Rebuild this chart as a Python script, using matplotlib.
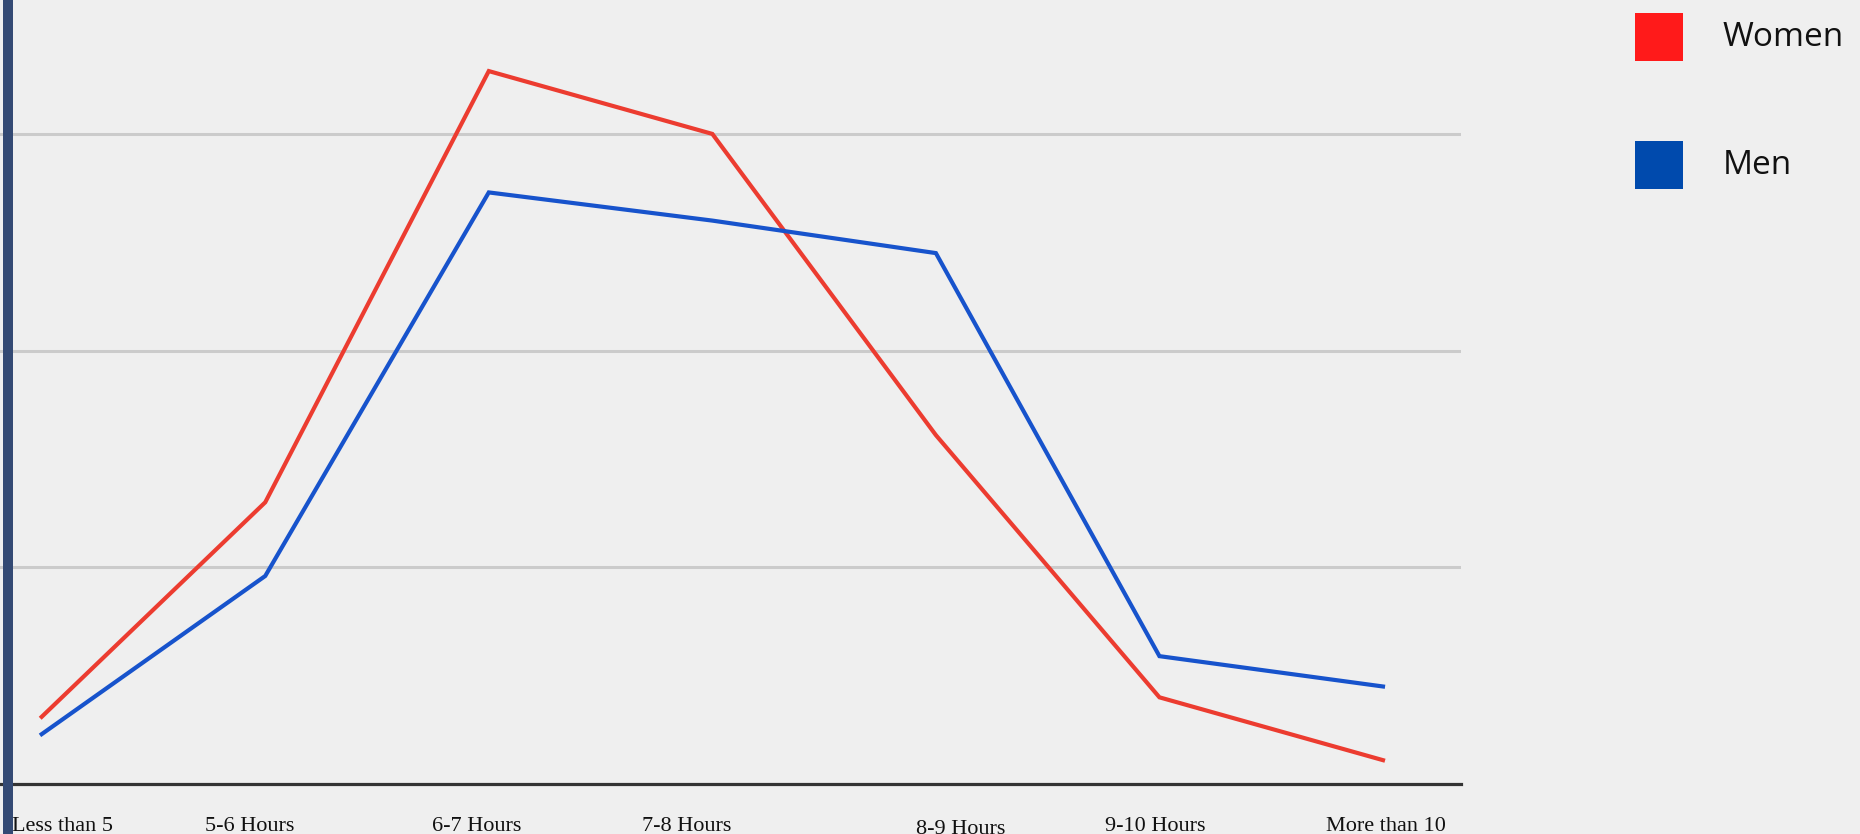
import matplotlib.pyplot as plt
from matplotlib.patches import Rectangle

categories = ["Less than 5", "5-6 Hours", "6-7 Hours", "7-8 Hours",
              "8-9 Hours", "9-10 Hours", "More than 10"]
women = [3.1, 13.0, 32.9, 30.0, 16.1, 4.0, 1.1]
men = [2.3, 9.6, 27.3, 26.0, 24.5, 5.9, 4.5]

BG = "#efefef"
W, H = 1860, 834

fig = plt.figure(figsize=(W / 100, H / 100), dpi=100, facecolor=BG)
ax = fig.add_axes([0, 50 / H, 1461 / W, 784 / H])
ax.set_facecolor(BG)

x = list(range(len(categories)))
ax.plot(x, women, color="#ec3c30", lw=3.0, solid_joinstyle="miter", zorder=3)
ax.plot(x, men, color="#1753cc", lw=3.0, solid_joinstyle="miter", zorder=3)

ax.set_xlim(-0.1865, 6.349)
ax.set_ylim(0, 36.18)

# horizontal grid plus dark baseline
for v in (10, 20, 30):
    ax.axhline(v, color="#cbcbcb", lw=2.2, zorder=1)
ax.axhline(0, color="#333333", lw=2.3, zorder=4, clip_on=False)

for s in ax.spines.values():
    s.set_visible(False)
ax.set_xticks([])
ax.set_yticks([])

# category labels sit a little off their points
label_shift = [0.091, -0.068, -0.054, -0.115, 0.110, -0.020, 0.013]
label_drop = [0, 0, 0, 0, 2.5, 0, 0]
trans = ax.get_xaxis_transform()
for i, name in enumerate(categories):
    ax.text(i + label_shift[i], -(47 + label_drop[i]) / 784, name,
            transform=trans, ha="center", va="baseline",
            family="Liberation Serif", fontsize=16, color="#111111",
            clip_on=False)

# dark bar on the left edge
fig.add_artist(Rectangle((3 / W, 0), 10 / W, 1, transform=fig.transFigure,
                         facecolor="#344a74", edgecolor="none", zorder=5))

# legend
legend = [("Women", "#ff1a1a", 13), ("Men", "#004aad", 141)]
for name, col, top in legend:
    fig.add_artist(Rectangle((1635 / W, 1 - (top + 48) / H), 48 / W, 48 / H,
                             transform=fig.transFigure, facecolor=col,
                             edgecolor="none"))
    fig.text(1723 / W, 1 - (top + 24) / H, name, ha="left", va="center",
             family="Open Sans", fontsize=24, color="#111111")

fig.savefig("out.png", dpi=100, facecolor=BG)
